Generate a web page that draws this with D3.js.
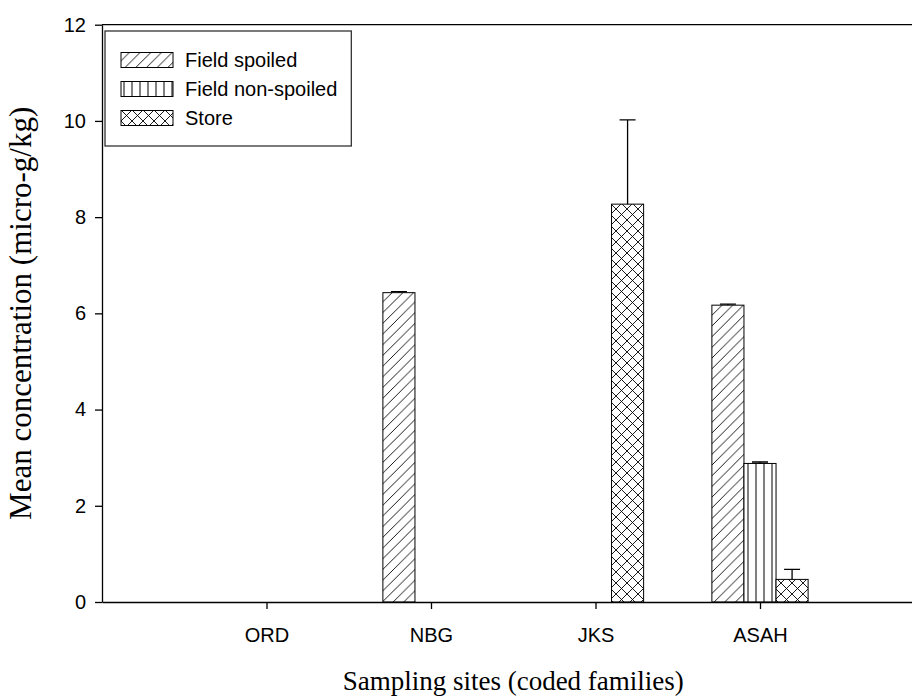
<!DOCTYPE html>
<html><head><meta charset="utf-8">
<script src="https://cdn.jsdelivr.net/npm/d3@7"></script>
<style>body{margin:0;background:#fff}svg{display:block}</style>
</head><body>
<script>
const categories = ["ORD", "NBG", "JKS", "ASAH"];
const seriesNames = ["Field spoiled", "Field non-spoiled", "Store"];
const fieldSpoiled = [null, 6.43, null, 6.17];
const fieldNonSpoiled = [null, null, null, 2.88];
const store = [null, null, 8.27, 0.47];
const errFieldSpoiled = [null, 0.02, null, 0.02];
const errFieldNonSpoiled = [null, null, null, 0.03];
const errStore = [null, null, 1.75, 0.21];
const yTicks = [0, 2, 4, 6, 8, 10, 12];

const W = 912, H = 697;
const svg = d3.select("body").append("svg").attr("width", W).attr("height", H);
const x = d3.scaleLinear().domain([0, 5]).range([102, 924.5]);
const y = d3.scaleLinear().domain([0, 12]).range([602, 24.7]);
const SANS = "Liberation Sans, Arial, sans-serif";
const SERIF = "Liberation Serif, Times New Roman, serif";

const defs = svg.append("defs");
function pat(id, size, draw) {
  const p = defs.append("pattern").attr("id", id).attr("patternUnits", "userSpaceOnUse")
    .attr("width", size).attr("height", size);
  p.append("rect").attr("width", size).attr("height", size).attr("fill", "#fff");
  draw(p, size);
}
pat("diag", 10.7, (p, s) => {
  p.append("path").attr("d", `M0,${s} L${s},0 M${-s/2},${s/2} L${s/2},${-s/2} M${s/2},${s*1.5} L${s*1.5},${s/2}`)
    .attr("stroke", "#000").attr("stroke-width", 0.9);
});
pat("vert", 8, (p, s) => {
  p.append("path").attr("d", `M${s/2},0 L${s/2},${s}`).attr("stroke", "#000").attr("stroke-width", 1);
});
pat("cross", 11, (p, s) => {
  p.append("path").attr("d", `M0,0 L${s},${s} M0,${s} L${s},0`).attr("stroke", "#000").attr("stroke-width", 0.9);
});
const fills = ["url(#diag)", "url(#vert)", "url(#cross)"];

const series = [fieldSpoiled, fieldNonSpoiled, store];
const errs = [errFieldSpoiled, errFieldNonSpoiled, errStore];
const barW = (x(1) - x(0)) * 0.195;

const data = [];
series.forEach((vals, j) => vals.forEach((v, i) => {
  if (v != null) data.push({ i, j, v, e: errs[j][i] });
}));

const g = svg.append("g");
const bx = d => x(d.i + 1) + (d.j - 1.5) * barW;
g.selectAll("rect.bar").data(data).enter().append("rect").attr("class", "bar")
  .attr("x", bx).attr("width", barW)
  .attr("y", d => y(d.v)).attr("height", d => y(0) - y(d.v))
  .attr("fill", d => fills[d.j]).attr("stroke", "#000").attr("stroke-width", 1);

const eb = data.filter(d => d.e != null);
g.selectAll("path.err").data(eb).enter().append("path").attr("class", "err")
  .attr("d", d => {
    const cx = bx(d) + barW / 2;
    return `M${cx},${y(d.v)} L${cx},${y(d.v + d.e)} M${cx - 8},${y(d.v + d.e)} L${cx + 8},${y(d.v + d.e)}`;
  })
  .attr("stroke", "#000").attr("stroke-width", 1.3).attr("fill", "none");

// axes
const yAxis = svg.append("g").attr("transform", `translate(${x(0)},0)`)
  .call(d3.axisLeft(y).tickValues(yTicks).tickSize(7).tickPadding(9).tickSizeOuter(0));
const xAxis = svg.append("g").attr("transform", `translate(0,${y(0)})`)
  .call(d3.axisBottom(x).tickValues([1, 2, 3, 4]).tickFormat(d => categories[d - 1])
    .tickSize(7).tickPadding(19).tickSizeOuter(0));
[yAxis, xAxis].forEach(a => {
  a.selectAll("path.domain").attr("stroke", "#000").attr("stroke-width", 1.3);
  a.selectAll(".tick line").attr("stroke", "#000").attr("stroke-width", 1.3);
  a.selectAll("text").attr("font-family", SANS).attr("font-size", 20).attr("fill", "#000");
});
// top frame line
svg.append("line").attr("x1", x(0)).attr("x2", x(5)).attr("y1", y(12)).attr("y2", y(12))
  .attr("stroke", "#000").attr("stroke-width", 1.3);

// titles
svg.append("text").attr("x", x(2.5)).attr("y", 690).attr("text-anchor", "middle")
  .attr("font-family", SERIF).attr("font-size", 27)
  .text("Sampling sites (coded families)");
svg.append("text").attr("transform", `translate(31,${(y(0) + y(12)) / 2}) rotate(-90)`)
  .attr("text-anchor", "middle")
  .attr("font-family", SERIF).attr("font-size", 31)
  .text("Mean concentration (micro-g/kg)");

// legend
const lg = svg.append("g");
const box = lg.append("rect").attr("x", 105).attr("y", 31).attr("height", 115)
  .attr("fill", "#fff").attr("stroke", "#333").attr("stroke-width", 1.3);
let maxR = 0;
seriesNames.forEach((n, j) => {
  const cy = 60 + j * 29;
  lg.append("rect").attr("x", 121).attr("y", cy - 7.5).attr("width", 52).attr("height", 15)
    .attr("fill", fills[j]).attr("stroke", "#000").attr("stroke-width", 1);
  const t = lg.append("text").attr("x", 185).attr("y", cy).attr("dy", "0.36em")
    .attr("font-family", SANS).attr("font-size", 20).text(n);
  maxR = Math.max(maxR, 185 + t.node().getComputedTextLength());
});
box.attr("width", maxR + 14 - 105);
</script>
</body></html>
